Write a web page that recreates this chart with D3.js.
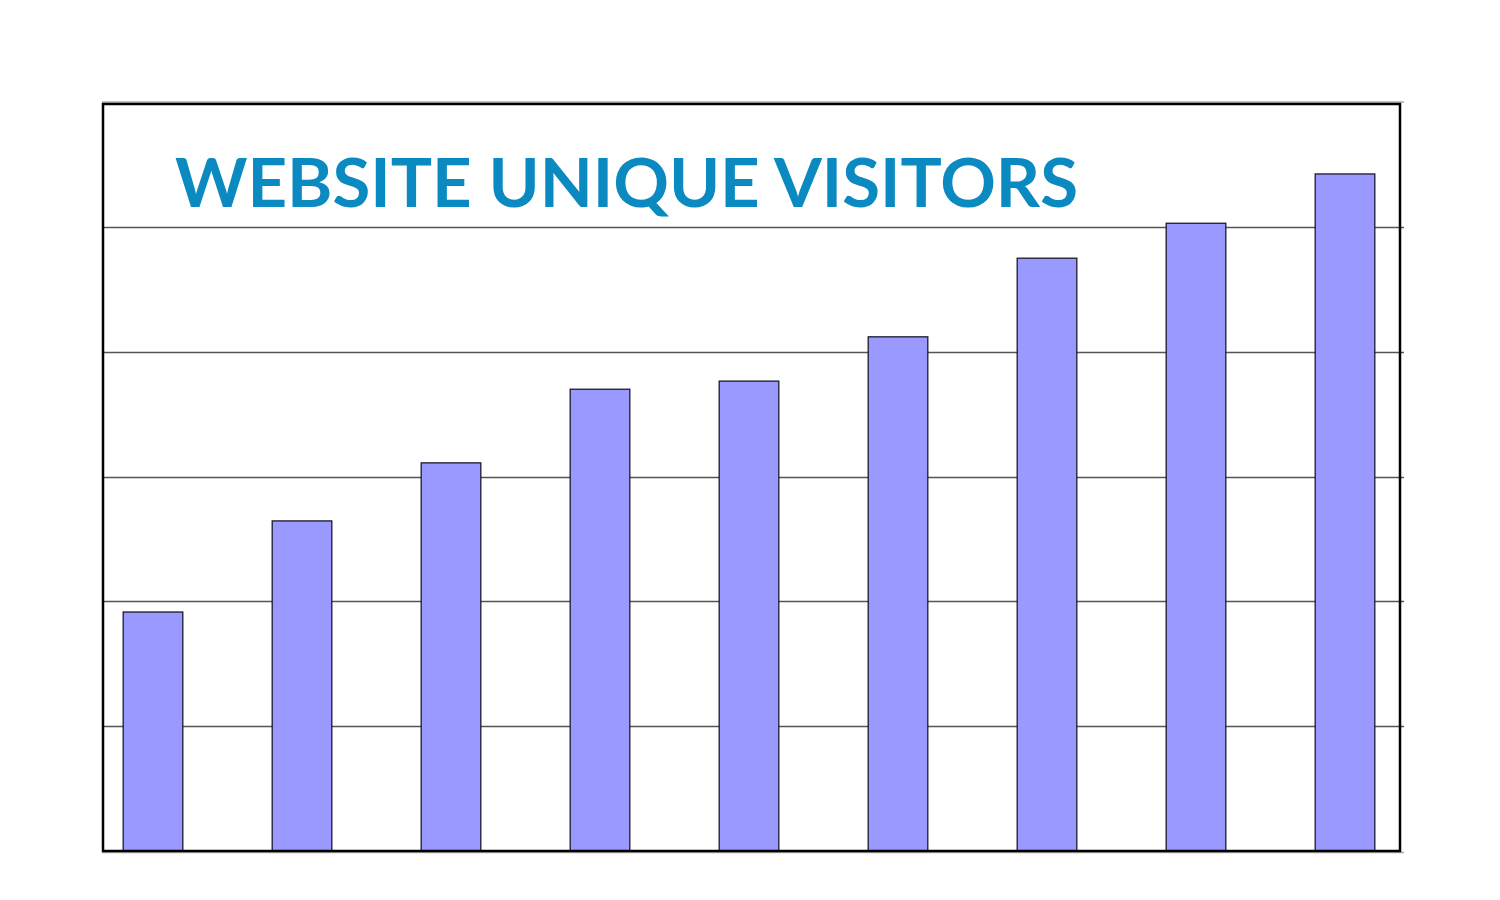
<!DOCTYPE html>
<html><head><meta charset="utf-8">
<script src="https://cdn.jsdelivr.net/npm/d3@7"></script>
<style>html,body{margin:0;padding:0;background:#fff;}</style>
</head><body>
<svg id="c" width="1500" height="900"></svg>
<script>
const categories = ["1","2","3","4","5","6","7","8","9"];
const values = [1.915, 2.645, 3.11, 3.70, 3.765, 4.12, 4.75, 5.03, 5.425];
const yTicks = [0, 1, 2, 3, 4, 5, 6];
const title = "WEBSITE UNIQUE VISITORS";

const svg = d3.select("#c");
const pLeft = 103, pRight = 1400, pTop = 104, pBottom = 851;

const x = d3.scaleBand().domain(categories).range([78.5, 1419.5]).paddingInner(0.6).paddingOuter(0.3);
const y = d3.scaleLinear().domain([0, 6]).range([pBottom, 102.2]);

// top gray line
svg.append("line").attr("x1", pLeft-1).attr("x2", 1404).attr("y1", 102).attr("y2", 102)
  .attr("stroke", "#aaa").attr("stroke-width", 1.5);
// bottom gray shadow
svg.append("line").attr("x1", pLeft-1).attr("x2", 1404).attr("y1", 852.5).attr("y2", 852.5)
  .attr("stroke", "#aaa").attr("stroke-width", 1.5);

// gridlines
svg.append("g").selectAll("line").data(yTicks.filter(d => d > 0 && d < 6)).join("line")
  .attr("x1", pLeft).attr("x2", 1404)
  .attr("y1", d => Math.round(y(d)) + 0.5).attr("y2", d => Math.round(y(d)) + 0.5)
  .attr("stroke", "#555").attr("stroke-width", 1.3);

// title
svg.append("text").attr("x", 175).attr("y", 207)
  .attr("font-family", "Lato, 'Open Sans', sans-serif").attr("font-size", 67)
  .attr("font-weight", 700)
  .attr("fill", "#0a8ac0")
  .attr("textLength", 903).attr("lengthAdjust", "spacingAndGlyphs")
  .text(title);

// bars
svg.append("g").selectAll("rect").data(values).join("rect")
  .attr("x", (d, i) => x(categories[i]))
  .attr("y", d => y(d))
  .attr("width", x.bandwidth())
  .attr("height", d => pBottom - y(d))
  .attr("fill", "#9999ff").attr("stroke", "#1a1a2e").attr("stroke-width", 1.3);

// frame
svg.append("rect").attr("x", pLeft).attr("y", pTop).attr("width", pRight - pLeft).attr("height", pBottom - pTop)
  .attr("fill", "none").attr("stroke", "#000").attr("stroke-width", 2.5);
</script>
</body></html>
